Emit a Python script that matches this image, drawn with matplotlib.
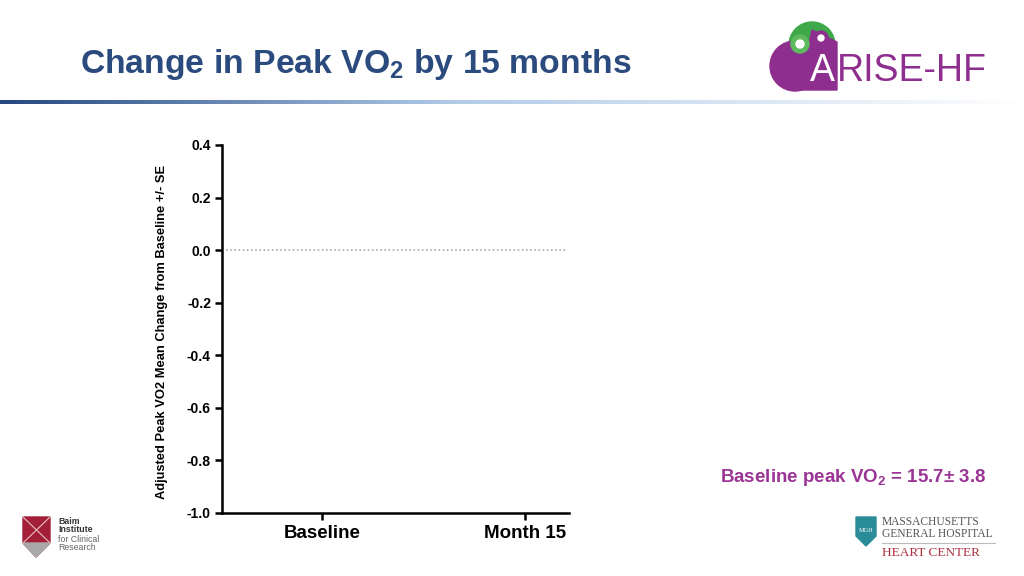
import matplotlib
matplotlib.use("Agg")
import matplotlib.pyplot as plt
import numpy as np
from matplotlib.patches import Polygon, Circle

plt.rcParams['font.family'] = ['Liberation Sans', 'DejaVu Sans']
plt.rcParams['mathtext.fontset'] = 'custom'
plt.rcParams['mathtext.rm'] = 'Liberation Sans'
plt.rcParams['mathtext.bf'] = 'Liberation Sans:bold'

categories = ["Baseline", "Month 15"]
y_ticks = [0.4, 0.2, 0.0, -0.2, -0.4, -0.6, -0.8, -1.0]
y_tick_labels = ["0.4", "0.2", "0.0", "-0.2", "-0.4", "-0.6", "-0.8", "-1.0"]
reference_value = 0.0

fig = plt.figure(figsize=(10.24, 5.76), dpi=100)
fig.patch.set_facecolor("white")

# title
fig.text(80/1024, 1-64/576, r"Change in Peak VO$_\mathbf{2}$ by 15 months", fontsize=24.3,
         fontweight="bold", color="#2B4B7E", va="center", ha="left")

# gradient bar
gax = fig.add_axes([0, 1-104/576, 1, 4/576])
grad = np.linspace(0, 1, 512)
c0 = np.array([0.14, 0.28, 0.50]); c1 = np.array([1.0, 1.0, 1.0])
mid = np.array([0.70, 0.80, 0.91])
cols = np.zeros((1, 512, 3))
for i, g in enumerate(grad):
    if g < 0.45:
        t = g/0.45
        cols[0, i] = c0*(1-t) + mid*t
    else:
        t = (g-0.45)/0.55
        cols[0, i] = mid*(1-t) + c1*t
gax.imshow(cols, aspect="auto", extent=[0, 1, 0, 1])
gax.axis("off")

# main axes
ax = fig.add_axes([222/1024, 1-513/576, 347/1024, 368/576])
x = np.arange(len(categories))
ax.set_xlim(-0.493, 1.217)
ax.set_ylim(-1.0, 0.4)
ax.axhline(reference_value, color="#AAAAAA", linestyle=(0, (1, 1.5)), linewidth=1.2, xmin=0.012, xmax=0.995)
ax.set_yticks(y_ticks)
ax.set_yticklabels(y_tick_labels, fontsize=10, fontweight="bold")
ax.set_xticks(x)
ax.set_xticklabels(categories, fontsize=13.5, fontweight="bold")
for s in ["top", "right"]:
    ax.spines[s].set_visible(False)
for s in ["left", "bottom"]:
    ax.spines[s].set_linewidth(1.8)
ax.tick_params(axis="both", direction="out", width=1.8, length=5, color="black")
ax.tick_params(axis="y", pad=3)
ax.tick_params(axis="x", pad=4)
ax.set_ylabel("Adjusted Peak VO2 Mean Change from Baseline +/- SE", fontsize=9.3,
              fontweight="bold")
ax.yaxis.set_label_coords((168 - 222)/347, (513 - 332)/368)

# annotation
fig.text(853/1024, 1-477/576, r"Baseline peak VO$_\mathbf{2}$ = 15.7± 3.8", fontsize=13.5,
         fontweight="bold", color="#9B3595", ha="center", va="center")

# ARISE-HF logo approximation
lax = fig.add_axes([0, 0, 1, 1], facecolor="none")
lax.set_xlim(0, 1024); lax.set_ylim(576, 0); lax.axis("off")
lax.add_patch(Circle((812, 45), 23, color="#3EA84A", zorder=1))
lax.add_patch(Circle((795, 66), 25, color="#8E2E8E", zorder=2))
lax.add_patch(Polygon([[790, 90], [837, 90], [837, 42], [812, 30], [805, 60]], closed=True, color="#8E2E8E", zorder=2))
lax.add_patch(Circle((800, 44), 9, color="#5DBB5E", zorder=3))
lax.add_patch(Circle((800, 44), 4, color="white", zorder=4))
lax.add_patch(Circle((821, 38), 7, color="#8E2E8E", zorder=3))
lax.add_patch(Circle((821, 38), 3, color="white", zorder=4))
lax.text(810, 71, "A", fontsize=27, color="white", ha="left", va="center", zorder=5)
lax.text(837, 71, "RISE-HF", fontsize=27, color="#8E2E8E", ha="left", va="center", zorder=5)

# Baim logo approximation
lax.add_patch(Polygon([[23, 517], [50, 517], [50, 543], [36, 557], [23, 543]], closed=True, color="#A21F37"))
lax.add_patch(Polygon([[23, 543], [50, 543], [36, 557]], closed=True, color="#A8A8A8"))
lax.plot([23, 50], [517, 543], color="#E8C0C8", linewidth=0.8)
lax.plot([50, 23], [517, 543], color="#E8C0C8", linewidth=0.8)
lax.text(58, 521, "Baim", fontsize=6.3, fontweight="bold", color="#333333", va="center")
lax.text(58, 530, "Institute", fontsize=6.3, fontweight="bold", color="#333333", va="center")
lax.text(58, 539, "for Clinical", fontsize=6.3, color="#666666", va="center")
lax.text(58, 548, "Research", fontsize=6.3, color="#666666", va="center")

# MGH logo approximation
lax.add_patch(Polygon([[856, 517], [876, 517], [876, 536], [866, 546], [856, 536]], closed=True, color="#2A8C99"))
lax.text(866, 530, "MGH", fontsize=4.5, color="white", ha="center", va="center", family="Liberation Serif")
lax.text(882, 522, "MASSACHUSETTS", fontsize=8.3, color="#555555", va="center", family="Liberation Serif")
lax.text(882, 534, "GENERAL HOSPITAL", fontsize=8.3, color="#555555", va="center", family="Liberation Serif")
lax.plot([882, 995], [543, 543], color="#BBBBBB", linewidth=0.8)
lax.text(882, 553, "HEART CENTER", fontsize=9.5, color="#B03040", va="center", family="Liberation Serif")

fig.savefig("out.png", dpi=100)
